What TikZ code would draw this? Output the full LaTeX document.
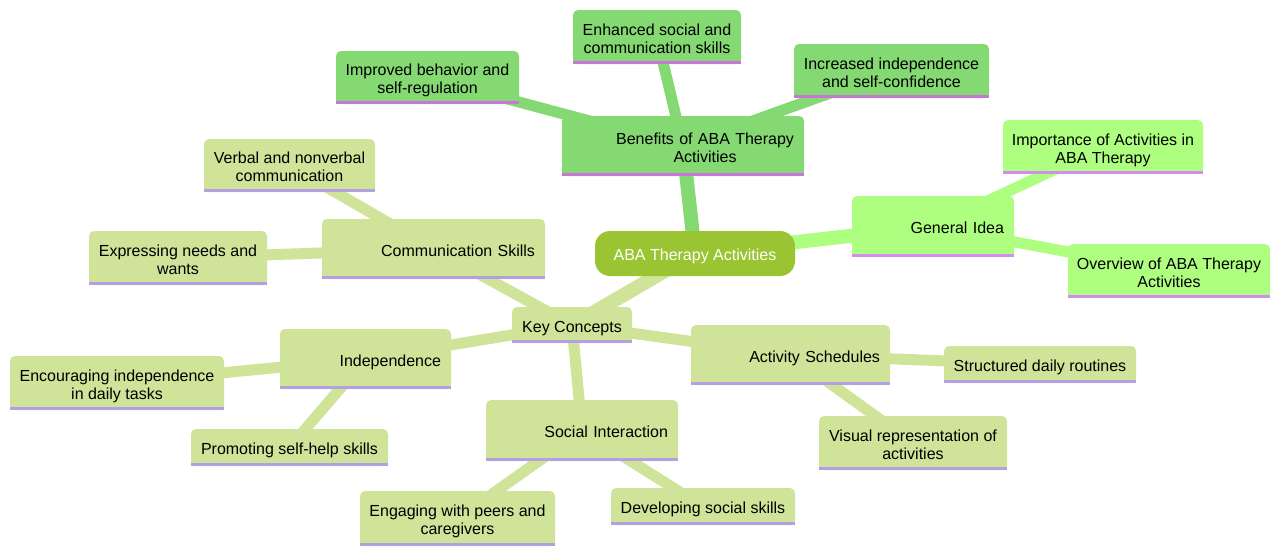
\documentclass[tikz,border=0pt]{standalone}
\usepackage{fontspec}
\setmainfont{Liberation Sans}
\usetikzlibrary{backgrounds}

\definecolor{rootfill}{RGB}{155,196,50}
\definecolor{keyfill}{RGB}{207,227,153}
\definecolor{keyline}{RGB}{178,160,226}
\definecolor{benfill}{RGB}{133,217,115}
\definecolor{benline}{RGB}{200,116,217}
\definecolor{genfill}{RGB}{174,255,128}
\definecolor{genline}{RGB}{212,140,240}

% lower the text a little inside its box, keeping the box size
\newcommand{\sink}[1]{\raisebox{-3.5pt}[\height][\depth]{\begin{tabular}{@{}c@{}}#1\end{tabular}}}

\tikzset{
  every node/.style={font=\fontsize{16}{18}\selectfont},
  idea/.style={rounded corners=5pt, inner sep=0pt, align=center},
  branch/.style={idea, inner xsep=10pt, text width=#1, align=right},
  trunk/.style={line width=14pt},
  twig/.style={line width=11pt}
}

\begin{document}
\begin{tikzpicture}[x=1pt, y=-1pt]
  \useasboundingbox (0,0) rectangle (1280,555);

  % Root
  \node (root) [fill=rootfill, text=white, rounded corners=15pt, inner sep=0pt,
    minimum width=200pt, minimum height=45pt] at (695,253.5) {\sink{ABA Therapy Activities}};

  % Benefits branch
  \node (ben) [branch=222pt, fill=benfill, minimum width=242pt, minimum height=60pt] at (683,146)
    {\sink{Benefits of ABA Therapy\\Activities}};
  \node (enh) [idea, fill=benfill, minimum width=168pt, minimum height=54pt] at (657,37)
    {\sink{Enhanced social and\\communication skills}};
  \node (imp) [idea, fill=benfill, minimum width=183pt, minimum height=53pt] at (427.5,77.5)
    {\sink{Improved behavior and\\self-regulation}};
  \node (inc) [idea, fill=benfill, minimum width=195pt, minimum height=54pt] at (891.5,71)
    {\sink{Increased independence\\and self-confidence}};

  % General Idea branch
  \node (gen) [branch=142pt, fill=genfill, minimum width=162pt, minimum height=61pt] at (933,226.5)
    {\sink{General Idea}};
  \node (imq) [idea, fill=genfill, minimum width=200pt, minimum height=54pt] at (1103,147)
    {\sink{Importance of Activities in\\ABA Therapy}};
  \node (ovr) [idea, fill=genfill, minimum width=202pt, minimum height=54pt] at (1169,271)
    {\sink{Overview of ABA Therapy\\Activities}};

  % Key Concepts branch
  \node (key) [idea, fill=keyfill, minimum width=120pt, minimum height=36pt] at (572,325)
    {\sink{Key Concepts}};
  \node (com) [branch=203pt, fill=keyfill, minimum width=223pt, minimum height=60pt] at (433.5,249)
    {\sink{Communication Skills}};
  \node (vrb) [idea, fill=keyfill, minimum width=171pt, minimum height=53pt] at (289.5,165.5)
    {\sink{Verbal and nonverbal\\communication}};
  \node (exp) [idea, fill=keyfill, minimum width=178pt, minimum height=54pt] at (178,258)
    {\sink{Expressing needs and\\wants}};
  \node (ind) [branch=151pt, fill=keyfill, minimum width=171pt, minimum height=60pt] at (365.5,359)
    {\sink{Independence}};
  \node (enc) [idea, fill=keyfill, minimum width=214pt, minimum height=54pt] at (117,383)
    {\sink{Encouraging independence\\in daily tasks}};
  \node (pro) [idea, fill=keyfill, minimum width=197pt, minimum height=37pt] at (289.5,447.5)
    {\sink{Promoting self-help skills}};
  \node (soc) [branch=172pt, fill=keyfill, minimum width=192pt, minimum height=61pt] at (582,430.5)
    {\sink{Social Interaction}};
  \node (eng) [idea, fill=keyfill, minimum width=195pt, minimum height=55pt] at (457.5,518.5)
    {\sink{Engaging with peers and\\caregivers}};
  \node (dev) [idea, fill=keyfill, minimum width=184pt, minimum height=37pt] at (703,506.5)
    {\sink{Developing social skills}};
  \node (act) [branch=179pt, fill=keyfill, minimum width=199pt, minimum height=60pt] at (790.5,355)
    {\sink{Activity Schedules}};
  \node (str) [idea, fill=keyfill, minimum width=192pt, minimum height=37pt] at (1040,364.5)
    {\sink{Structured daily routines}};
  \node (vis) [idea, fill=keyfill, minimum width=188pt, minimum height=54pt] at (913,443)
    {\sink{Visual representation of\\activities}};

  % Square bottoms with coloured underline
  \foreach \n/\f/\c in {ben/benfill/benline, enh/benfill/benline, imp/benfill/benline,
      inc/benfill/benline, gen/genfill/genline, imq/genfill/genline, ovr/genfill/genline,
      key/keyfill/keyline, com/keyfill/keyline, vrb/keyfill/keyline, exp/keyfill/keyline,
      ind/keyfill/keyline, enc/keyfill/keyline, pro/keyfill/keyline, soc/keyfill/keyline,
      eng/keyfill/keyline, dev/keyfill/keyline, act/keyfill/keyline, str/keyfill/keyline,
      vis/keyfill/keyline} {
    \fill[\f] ([yshift=6pt]\n.south west) rectangle (\n.south east);
    \fill[\c] ([yshift=3pt]\n.south west) rectangle (\n.south east);
  }

  % Connectors
  \begin{scope}[on background layer]
    \draw[trunk, benfill] (root.center) -- (ben.center);
    \draw[trunk, genfill] (root.center) -- (gen.center);
    \draw[trunk, keyfill] (root.center) -- (key.center);
    \draw[twig, benfill] (ben.center) -- (enh.center);
    \draw[twig, benfill] (ben.center) -- (imp.center);
    \draw[twig, benfill] (ben.center) -- (inc.center);
    \draw[twig, genfill] (gen.center) -- (imq.center);
    \draw[twig, genfill] (gen.center) -- (ovr.center);
    \draw[twig, keyfill] (key.center) -- (com.center);
    \draw[twig, keyfill] (key.center) -- (ind.center);
    \draw[twig, keyfill] (key.center) -- (soc.center);
    \draw[twig, keyfill] (key.center) -- (act.center);
    \draw[twig, keyfill] (com.center) -- (vrb.center);
    \draw[twig, keyfill] (com.center) -- (exp.center);
    \draw[twig, keyfill] (ind.center) -- (enc.center);
    \draw[twig, keyfill] (ind.center) -- (pro.center);
    \draw[twig, keyfill] (soc.center) -- (eng.center);
    \draw[twig, keyfill] (soc.center) -- (dev.center);
    \draw[twig, keyfill] (act.center) -- (str.center);
    \draw[twig, keyfill] (act.center) -- (vis.center);
  \end{scope}
\end{tikzpicture}
\end{document}
